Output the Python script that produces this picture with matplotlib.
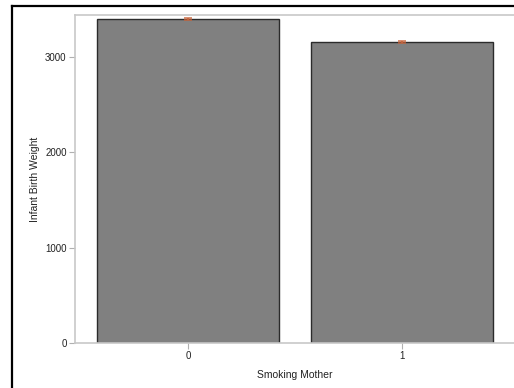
import numpy as np
import matplotlib
matplotlib.use("Agg")
import matplotlib.pyplot as plt
from matplotlib.lines import Line2D

# data
categories = ["0", "1"]
weights = [3400, 3158]
errors = [8, 8]

plt.rcParams['font.family'] = ['Liberation Sans', 'DejaVu Sans']

fig = plt.figure(figsize=(5.14, 3.88), dpi=100)
ax = fig.add_axes([75 / 514, 1 - 343 / 388, 1.0 - 75 / 514, (343 - 15) / 388])

x = np.arange(len(categories))
ax.bar(x, weights, width=0.85, color="#808080", edgecolor="#2b2b2b", linewidth=1.0, zorder=2)
ax.errorbar(x, weights, yerr=errors, fmt="none", ecolor="#c8643c", elinewidth=1.5,
            capsize=3, capthick=1.2, alpha=0.85, zorder=3)

ax.set_xlim(-0.528, 1.523)
ax.set_ylim(0, 3440)
ax.set_xticks(x)
ax.set_xticklabels(categories)
ax.set_yticks([0, 1000, 2000, 3000])

for side in ["left", "bottom", "top"]:
    ax.spines[side].set_color("#c8c8c8")
    ax.spines[side].set_linewidth(1.2)
ax.spines["right"].set_visible(False)

ax.tick_params(axis="both", colors="#b0b0b0", labelcolor="#222222", labelsize=7,
               length=4, width=0.8, pad=2)
ax.set_xlabel("Smoking Mother", fontsize=7.5, color="#222222", labelpad=6)
ax.set_ylabel("Infant Birth Weight", fontsize=7.5, color="#222222", labelpad=3.5)

# black frame on top and left of the figure
fig.add_artist(Line2D([11.5 / 514, 11.5 / 514], [0, 1 - 5.5 / 388], transform=fig.transFigure,
                      color="black", linewidth=1.6))
fig.add_artist(Line2D([11.5 / 514, 1], [1 - 5.5 / 388, 1 - 5.5 / 388], transform=fig.transFigure,
                      color="black", linewidth=1.6))

fig.savefig("out.png", dpi=100)
